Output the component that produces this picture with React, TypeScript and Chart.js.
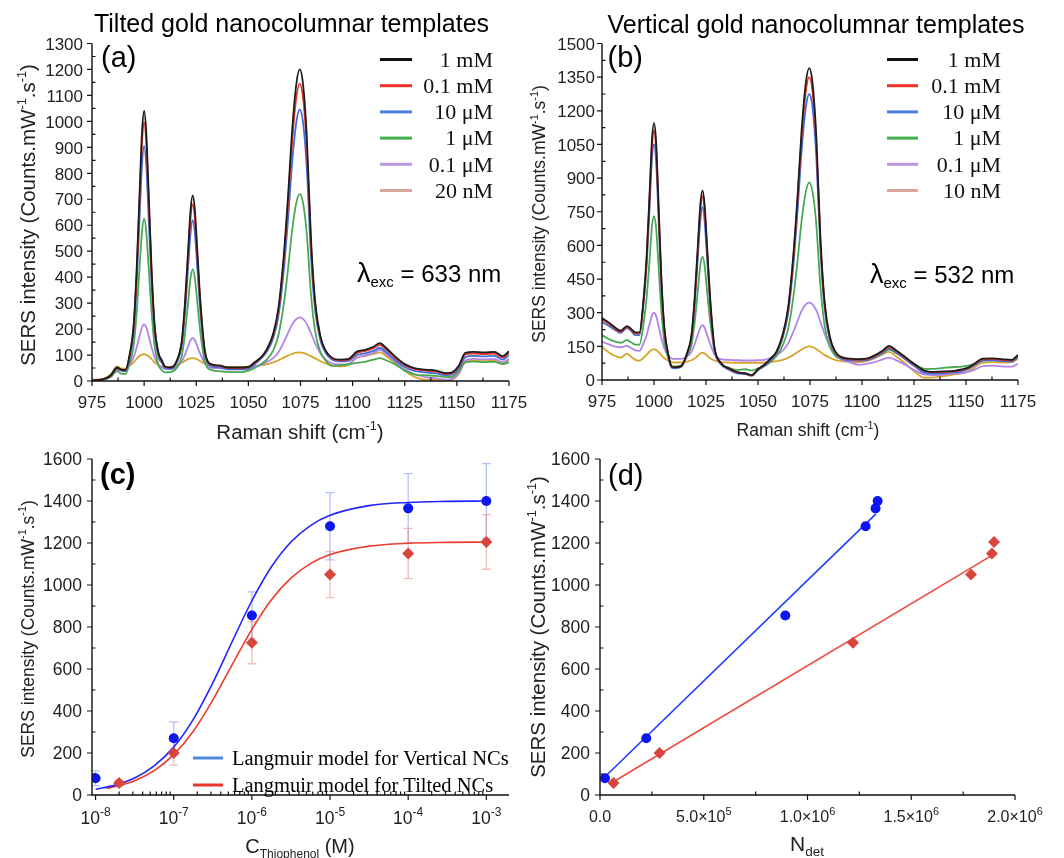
import React, { useEffect, useRef } from "react";
import { Chart, registerables } from "chart.js";

Chart.register(...registerables);

// ---------------- data ----------------
const ramanShift = [975, 978, 981, 984, 987, 989, 991, 993, 995, 996.5, 998, 999, 1000, 1001, 1002, 1003.5, 1005, 1007, 1008.5, 1010, 1013, 1016, 1018, 1019.5, 1021, 1022.3, 1023.3, 1024.3, 1025.6, 1027, 1029, 1032, 1036, 1040, 1044, 1047, 1050, 1053, 1056, 1059, 1062, 1064.5, 1067, 1069, 1071, 1073, 1074.6, 1076.2, 1078, 1080, 1082, 1084.5, 1087, 1090, 1094, 1098, 1102, 1106, 1110, 1113, 1116, 1120, 1125, 1130, 1135, 1140, 1145, 1148, 1151, 1154, 1158, 1163, 1168, 1172, 1175];

// (a) tilted gold nanocolumnar templates, 633 nm
const tilted_1mM = [2, 4, 8, 22, 52, 44, 42, 100, 218, 446, 763, 961, 1040, 961, 763, 446, 218, 105, 80, 56, 52, 85, 151, 291, 490, 662, 715, 662, 490, 304, 125, 65, 60, 52, 52, 52, 54, 72, 91, 125, 185, 286, 486, 709, 966, 1144, 1200, 1144, 944, 553, 308, 174, 118, 90, 82, 85, 113, 120, 132, 146, 128, 97, 65, 49, 44, 40, 30, 35, 60, 108, 112, 110, 112, 96, 115];
const tilted_01mM = [2, 4, 8, 21, 50, 43, 41, 97, 211, 428, 730, 919, 995, 919, 730, 428, 211, 100, 76, 55, 51, 83, 146, 278, 467, 631, 680, 631, 467, 290, 120, 64, 58, 51, 50, 50, 52, 70, 89, 121, 179, 275, 466, 678, 922, 1092, 1145, 1092, 901, 530, 296, 169, 116, 88, 80, 82, 108, 115, 126, 139, 122, 92, 61, 45, 40, 36, 27, 31, 56, 102, 106, 104, 106, 90, 110];
const tilted_10uM = [2, 3, 7, 19, 46, 40, 38, 88, 191, 389, 664, 836, 905, 836, 664, 389, 191, 90, 70, 50, 47, 76, 133, 253, 425, 573, 620, 573, 425, 264, 110, 58, 53, 47, 46, 46, 48, 64, 86, 114, 167, 254, 427, 620, 842, 997, 1045, 997, 823, 485, 273, 157, 109, 83, 76, 78, 100, 106, 116, 128, 112, 84, 54, 38, 33, 29, 22, 26, 48, 92, 97, 95, 97, 82, 100];
const tilted_1uM = [1, 3, 6, 15, 38, 28, 27, 67, 138, 273, 461, 578, 625, 578, 461, 273, 138, 59, 42, 33, 35, 55, 94, 177, 296, 398, 430, 398, 296, 185, 78, 43, 38, 35, 34, 34, 40, 50, 65, 84, 119, 179, 298, 430, 581, 687, 720, 687, 568, 337, 192, 113, 80, 58, 60, 64, 70, 74, 82, 88, 80, 66, 40, 25, 22, 20, 15, 18, 40, 72, 75, 73, 74, 65, 72];
const tilted_01uM = [2, 3, 7, 19, 46, 42, 42, 62, 92, 132, 180, 208, 218, 208, 180, 132, 92, 62, 52, 47, 47, 56, 75, 100, 131, 158, 165, 158, 131, 103, 71, 51, 50, 45, 44, 44, 46, 56, 62, 74, 89, 112, 150, 184, 218, 239, 245, 239, 220, 184, 146, 108, 83, 68, 64, 66, 90, 98, 108, 120, 104, 78, 45, 25, 15, 10, 5, 10, 32, 78, 85, 83, 85, 72, 85];
const tilted_20nM = [5, 6, 10, 25, 56, 48, 48, 60, 72, 86, 98, 102, 103, 101, 96, 85, 72, 60, 55, 53, 55, 62, 70, 77, 84, 87, 88, 87, 83, 76, 67, 58, 55, 54, 54, 54, 55, 57, 60, 65, 72, 80, 90, 98, 104, 109, 110, 108, 103, 96, 87, 77, 68, 60, 56, 62, 90, 96, 104, 110, 96, 72, 40, 15, 5, 4, 2, 6, 28, 72, 78, 76, 78, 66, 80];

// (b) vertical gold nanocolumnar templates, 532 nm
const vertical_1mM = [276, 258, 236, 220, 240, 228, 212, 212, 365, 559, 859, 1068, 1145, 1064, 832, 463, 231, 108, 60, 57, 62, 123, 199, 359, 587, 784, 845, 784, 583, 365, 151, 78, 52, 35, 30, 22, 48, 68, 95, 129, 207, 324, 558, 818, 1117, 1325, 1390, 1325, 1091, 636, 350, 194, 129, 103, 95, 93, 95, 110, 132, 152, 135, 108, 72, 42, 36, 38, 42, 47, 55, 72, 95, 96, 92, 90, 112];
const vertical_01mM = [270, 252, 231, 215, 236, 223, 207, 207, 355, 543, 833, 1035, 1110, 1032, 807, 451, 226, 107, 59, 56, 61, 121, 194, 349, 570, 761, 820, 760, 566, 355, 147, 77, 50, 34, 29, 21, 47, 66, 93, 126, 202, 315, 542, 795, 1085, 1287, 1350, 1287, 1060, 618, 340, 189, 126, 100, 92, 90, 92, 106, 128, 147, 131, 104, 69, 40, 34, 36, 40, 45, 53, 70, 92, 93, 89, 87, 108];
const vertical_10uM = [258, 243, 224, 210, 232, 218, 200, 200, 341, 519, 793, 984, 1050, 976, 765, 429, 217, 104, 55, 52, 58, 116, 185, 330, 536, 715, 770, 713, 530, 335, 140, 72, 46, 30, 26, 18, 44, 62, 88, 121, 192, 299, 513, 751, 1025, 1216, 1275, 1216, 1001, 585, 323, 180, 120, 96, 88, 86, 88, 101, 122, 140, 125, 98, 63, 33, 28, 31, 35, 40, 48, 65, 87, 88, 84, 82, 102];
const vertical_1uM = [200, 184, 172, 166, 178, 168, 158, 158, 253, 370, 553, 682, 730, 680, 540, 314, 169, 92, 62, 60, 64, 108, 155, 252, 392, 513, 550, 512, 388, 262, 136, 72, 55, 45, 48, 42, 52, 62, 80, 109, 157, 228, 371, 530, 713, 840, 880, 840, 697, 419, 244, 149, 110, 95, 90, 88, 90, 102, 118, 135, 122, 100, 72, 50, 50, 55, 58, 60, 64, 72, 88, 90, 86, 86, 100];
const vertical_01uM = [170, 160, 150, 146, 152, 143, 132, 130, 165, 201, 254, 287, 300, 286, 250, 188, 140, 108, 96, 94, 94, 106, 125, 158, 200, 235, 245, 234, 199, 161, 116, 93, 90, 88, 87, 87, 88, 90, 98, 111, 132, 163, 215, 262, 309, 337, 345, 337, 311, 260, 206, 151, 115, 91, 80, 68, 72, 80, 92, 100, 90, 72, 45, 25, 22, 25, 30, 32, 36, 45, 62, 64, 60, 60, 72];
const vertical_10nM = [148, 125, 108, 100, 118, 103, 90, 86, 99, 113, 128, 135, 138, 134, 126, 111, 97, 85, 80, 78, 78, 82, 88, 96, 107, 118, 122, 118, 108, 97, 87, 80, 78, 77, 77, 77, 77, 78, 80, 84, 90, 99, 112, 124, 136, 146, 150, 147, 138, 125, 112, 99, 90, 84, 81, 80, 84, 96, 115, 125, 108, 80, 40, 10, 12, 18, 26, 30, 38, 55, 78, 80, 78, 80, 95];

const tiltedLegend = ["1 mM", "0.1 mM", "10 \u03bcM", "1 \u03bcM", "0.1 \u03bcM", "20 nM"];
const verticalLegend = ["1 mM", "0.1 mM", "10 \u03bcM", "1 \u03bcM", "0.1 \u03bcM", "10 nM"];

// (c) intensity vs concentration
const concVertical = [1e-8, 1e-7, 1e-6, 1e-5, 1e-4, 1e-3];
const intensityVertical = [80, 270, 855, 1280, 1365, 1400];
const errVertical = [35, 78, 112, 160, 165, 178];
const concTilted = [2e-8, 1e-7, 1e-6, 1e-5, 1e-4, 1e-3];
const intensityTilted = [57, 200, 725, 1050, 1150, 1205];
const errTilted = [14, 58, 100, 110, 120, 130];
const langmuirConcVertical = [1e-8, 1.78e-8, 3.16e-8, 5.62e-8, 1e-7, 1.78e-7, 3.16e-7, 5.62e-7, 1e-6, 1.78e-6, 3.16e-6, 5.62e-6, 1e-5, 3.16e-5, 1e-4, 3.16e-4, 1e-3];
const langmuirVertical = [27, 47, 81, 139, 228, 360, 534, 732, 925, 1087, 1205, 1283, 1332, 1378, 1393, 1398, 1400];
const langmuirConcTilted = [1.4e-8, 1.78e-8, 3.16e-8, 5.62e-8, 1e-7, 1.78e-7, 3.16e-7, 5.62e-7, 1e-6, 1.78e-6, 3.16e-6, 5.62e-6, 1e-5, 3.16e-5, 1e-4, 3.16e-4, 1e-3];
const langmuirTilted = [31, 40, 68, 116, 192, 304, 452, 622, 789, 930, 1033, 1102, 1145, 1185, 1199, 1203, 1205];
const langmuirLegend = ["Langmuir model for Vertical NCs", "Langmuir model for Tilted NCs"];

// (d) intensity vs number of detected molecules
const nDetVertical = [2.4e4, 2.23e5, 8.93e5, 1.28e6, 1.328e6, 1.338e6];
const nDetTilted = [6.5e4, 2.87e5, 1.219e6, 1.788e6, 1.889e6, 1.899e6];
const fitVerticalN = [2.4e4, 1.33e6];
const fitVerticalI = [87, 1339];
const fitTiltedN = [6.5e4, 1.889e6];
const fitTiltedI = [63, 1141];

// ticks
const aXTicks = [975, 1000, 1025, 1050, 1075, 1100, 1125, 1150, 1175];
const aYTicks = [0, 100, 200, 300, 400, 500, 600, 700, 800, 900, 1000, 1100, 1200, 1300];
const bYTicks = [0, 150, 300, 450, 600, 750, 900, 1050, 1200, 1350, 1500];
const cXTicks = [1e-8, 1e-7, 1e-6, 1e-5, 1e-4, 1e-3];
const cXTickExp = ["-8", "-7", "-6", "-5", "-4", "-3"];
const cdYTicks = [0, 200, 400, 600, 800, 1000, 1200, 1400, 1600];
const dXTicks = [0, 5e5, 1e6, 1.5e6, 2e6];
const dXTickMantissa = ["0.0", "5.0", "1.0", "1.5", "2.0"];
const dXTickExp = ["", "5", "6", "6", "6"];

// ---------------- styling ----------------
const SANS = '"Liberation Sans", Arial, sans-serif';
const SERIF = '"Liberation Serif", "Times New Roman", serif';
const spectraColors = ["#1c1c1c", "#e23b2e", "#3c6fda", "#47aa52", "#b283e8", "#d9a42c"];
const legendColors = ["#111111", "#ee3124", "#4a80e0", "#3fae4c", "#b898e2", "#d8a49c"];
const legendRows = [59.5, 85.7, 111.9, 138.1, 164.3, 190.5];

type Seg = { t: string; s: number; dy?: number; bold?: boolean; serif?: boolean };

function fontOf(sg: Seg) {
  return `${sg.bold ? "bold " : ""}${sg.s}px ${sg.serif ? SERIF : SANS}`;
}

function drawRich(ctx: CanvasRenderingContext2D, segs: Seg[], x: number, y: number, align: string) {
  let total = 0;
  const ws = segs.map((sg) => {
    ctx.font = fontOf(sg);
    const w = ctx.measureText(sg.t).width;
    total += w;
    return w;
  });
  let cx = align === "left" ? x : align === "center" ? x - total / 2 : x - total;
  ctx.textAlign = "left";
  ctx.textBaseline = "alphabetic";
  segs.forEach((sg, i) => {
    ctx.font = fontOf(sg);
    ctx.fillText(sg.t, cx, y + (sg.dy || 0));
    cx += ws[i];
  });
}

function sersTitle(s: number): Seg[] {
  return [
    { t: "SERS intensity (Counts.mW", s },
    { t: "-1", s: s * 0.62, dy: -s * 0.42 },
    { t: ".s", s },
    { t: "-1", s: s * 0.62, dy: -s * 0.42 },
    { t: ")", s },
  ];
}

function ramanTitle(s: number): Seg[] {
  return [
    { t: "Raman shift (cm", s },
    { t: "-1", s: s * 0.62, dy: -s * 0.42 },
    { t: ")", s },
  ];
}

type TextItem = { segs: Seg[]; x: number; y: number; align?: string; rot?: boolean; color?: string };
type Deco = {
  xMajors: number[];
  xMinors: number[];
  xLabel: (v: number, i: number) => Seg[];
  xLabelDy: number;
  yMajors: number[];
  yMinors: number[];
  yLabel: (v: number) => Seg[];
  yLabelGap: number;
  texts: TextItem[];
  lines: { x1: number; x2: number; y: number; color: string; w: number }[];
  errors?: { xs: number[]; ys: number[]; es: number[]; color: string }[];
};

function decoPlugin(d: Deco) {
  return {
    id: "deco",
    beforeDatasetsDraw(chart: any) {
      if (!d.errors) return;
      const ctx = chart.ctx as CanvasRenderingContext2D;
      const sx = chart.scales.x;
      const sy = chart.scales.y;
      ctx.save();
      d.errors.forEach((e) => {
        ctx.strokeStyle = e.color;
        ctx.lineWidth = 1.3;
        e.xs.forEach((xv, i) => {
          const px = sx.getPixelForValue(xv);
          const pt = sy.getPixelForValue(e.ys[i] + e.es[i]);
          const pb = sy.getPixelForValue(e.ys[i] - e.es[i]);
          ctx.beginPath();
          ctx.moveTo(px, pt);
          ctx.lineTo(px, pb);
          ctx.moveTo(px - 4.5, pt);
          ctx.lineTo(px + 4.5, pt);
          ctx.moveTo(px - 4.5, pb);
          ctx.lineTo(px + 4.5, pb);
          ctx.stroke();
        });
      });
      ctx.restore();
    },
    afterDraw(chart: any) {
      const ctx = chart.ctx as CanvasRenderingContext2D;
      const { left, right, top, bottom } = chart.chartArea;
      const sx = chart.scales.x;
      const sy = chart.scales.y;
      ctx.save();
      ctx.strokeStyle = "#111";
      ctx.lineWidth = 1.4;
      ctx.beginPath();
      ctx.moveTo(left, top);
      ctx.lineTo(left, bottom);
      ctx.lineTo(right, bottom);
      ctx.stroke();
      ctx.lineWidth = 1.2;
      ctx.beginPath();
      d.xMajors.forEach((v) => {
        const p = sx.getPixelForValue(v);
        ctx.moveTo(p, bottom);
        ctx.lineTo(p, bottom + 5);
      });
      d.xMinors.forEach((v) => {
        const p = sx.getPixelForValue(v);
        ctx.moveTo(p, bottom);
        ctx.lineTo(p, bottom - 3.5);
      });
      d.yMajors.forEach((v) => {
        const p = sy.getPixelForValue(v);
        ctx.moveTo(left, p);
        ctx.lineTo(left - 5, p);
      });
      d.yMinors.forEach((v) => {
        const p = sy.getPixelForValue(v);
        ctx.moveTo(left, p);
        ctx.lineTo(left + 3.5, p);
      });
      ctx.stroke();

      ctx.fillStyle = "#222";
      d.xMajors.forEach((v, i) => drawRich(ctx, d.xLabel(v, i), sx.getPixelForValue(v), bottom + d.xLabelDy, "center"));
      d.yMajors.forEach((v) => drawRich(ctx, d.yLabel(v), left - d.yLabelGap, sy.getPixelForValue(v) + 6.2, "right"));

      d.lines.forEach((l) => {
        ctx.strokeStyle = l.color;
        ctx.lineWidth = l.w;
        ctx.beginPath();
        ctx.moveTo(l.x1, l.y);
        ctx.lineTo(l.x2, l.y);
        ctx.stroke();
      });

      d.texts.forEach((t) => {
        ctx.fillStyle = t.color || "#111";
        if (t.rot) {
          ctx.save();
          ctx.translate(t.x, t.y);
          ctx.rotate(-Math.PI / 2);
          drawRich(ctx, t.segs, 0, 0, "center");
          ctx.restore();
        } else {
          drawRich(ctx, t.segs, t.x, t.y, t.align || "left");
        }
      });
      ctx.restore();
    },
  };
}

const W = 1064;
const H = 858;

function baseOptions(pad: any, xScale: any, yMax: number) {
  return {
    responsive: false,
    animation: false,
    events: [],
    layout: { padding: pad },
    plugins: { legend: { display: false }, tooltip: { enabled: false } },
    scales: {
      x: { ...xScale, display: false },
      y: { type: "linear", min: 0, max: yMax, display: false },
    },
  };
}

function makeSpectrum(canvas: HTMLCanvasElement, series: number[][], yMax: number, pad: any, deco: Deco) {
  return new Chart(canvas, {
    type: "line",
    data: {
      datasets: series.map((ys, i) => ({
        data: ramanShift.map((x, j) => ({ x, y: ys[j] })),
        borderColor: spectraColors[i],
        borderWidth: 1.8,
        pointRadius: 0,
        cubicInterpolationMode: "monotone",
        fill: false,
      })),
    },
    options: baseOptions(pad, { type: "linear", min: 975, max: 1175 }, yMax) as any,
    plugins: [decoPlugin(deco) as any],
  });
}

function range(a: number, b: number, step: number) {
  const out: number[] = [];
  for (let v = a; v <= b + 1e-9; v += step) out.push(v);
  return out;
}

function legendTexts(labels: string[], xRight: number): TextItem[] {
  return labels.map((l, i) => ({ segs: [{ t: l, s: 22, serif: true }], x: xRight, y: legendRows[i] + 7.3, align: "right" }));
}
function legendLines(x1: number, x2: number) {
  return legendColors.map((c, i) => ({ x1, x2, y: legendRows[i], color: c, w: 3 }));
}

const plainLabel = (s: number) => (v: number): Seg[] => [{ t: String(v), s }];

function buildA(canvas: HTMLCanvasElement) {
  const deco: Deco = {
    xMajors: aXTicks,
    xMinors: range(987.5, 1162.5, 25),
    xLabel: plainLabel(17),
    xLabelDy: 27,
    yMajors: aYTicks,
    yMinors: range(50, 1250, 100),
    yLabel: plainLabel(17),
    yLabelGap: 9,
    texts: [
      { segs: [{ t: "Tilted gold nanocolumnar templates", s: 25 }], x: 291.5, y: 32, align: "center", color: "#000" },
      { segs: [{ t: "(a)", s: 29 }], x: 101, y: 67, color: "#000" },
      { segs: [{ t: "\u03bb", s: 27 }, { t: "exc", s: 15, dy: 5 }, { t: " = 633 nm", s: 24 }], x: 357, y: 282, color: "#000" },
      ...legendTexts(tiltedLegend, 493),
      { segs: sersTitle(20.5), x: 34.5, y: 215, rot: true, color: "#222" },
      { segs: ramanTitle(20.5), x: 300, y: 439, align: "center", color: "#222" },
    ],
    lines: legendLines(380, 412),
  };
  return makeSpectrum(
    canvas,
    [tilted_1mM, tilted_01mM, tilted_10uM, tilted_1uM, tilted_01uM, tilted_20nM],
    1300,
    { left: 92, top: 43.5, right: W - 509, bottom: H - 381 },
    deco
  );
}

function buildB(canvas: HTMLCanvasElement) {
  const deco: Deco = {
    xMajors: aXTicks,
    xMinors: range(987.5, 1162.5, 25),
    xLabel: plainLabel(17),
    xLabelDy: 27,
    yMajors: bYTicks,
    yMinors: range(75, 1425, 150),
    yLabel: plainLabel(17),
    yLabelGap: 7,
    texts: [
      { segs: [{ t: "Vertical gold nanocolumnar templates", s: 25 }], x: 816, y: 32.5, align: "center", color: "#000" },
      { segs: [{ t: "(b)", s: 29 }], x: 607.5, y: 67, color: "#000" },
      { segs: [{ t: "\u03bb", s: 27 }, { t: "exc", s: 15, dy: 5 }, { t: " = 532 nm", s: 24 }], x: 870, y: 283, color: "#000" },
      ...legendTexts(verticalLegend, 1001),
      { segs: sersTitle(17.5), x: 545, y: 214, rot: true, color: "#222" },
      { segs: ramanTitle(17.5), x: 808, y: 436, align: "center", color: "#222" },
    ],
    lines: legendLines(887, 918),
  };
  return makeSpectrum(
    canvas,
    [vertical_1mM, vertical_01mM, vertical_10uM, vertical_1uM, vertical_01uM, vertical_10nM],
    1500,
    { left: 602, top: 43.5, right: W - 1018, bottom: H - 380 },
    deco
  );
}

function buildC(canvas: HTMLCanvasElement) {
  const minors: number[] = [];
  for (let e = -8; e <= -4; e++) for (let k = 2; k <= 9; k++) minors.push(k * Math.pow(10, e));
  const deco: Deco = {
    xMajors: cXTicks,
    xMinors: minors,
    xLabel: (_v, i) => [
      { t: "10", s: 17.5 },
      { t: cXTickExp[i], s: 12, dy: -8 },
    ],
    xLabelDy: 29,
    yMajors: cdYTicks,
    yMinors: range(100, 1500, 200),
    yLabel: plainLabel(17.5),
    yLabelGap: 10,
    texts: [
      { segs: [{ t: "(c)", s: 29, bold: true }], x: 100, y: 484, color: "#000" },
      { segs: [{ t: langmuirLegend[0], s: 20.5, serif: true }], x: 232, y: 765, color: "#000" },
      { segs: [{ t: langmuirLegend[1], s: 20.5, serif: true }], x: 232, y: 792, color: "#000" },
      { segs: sersTitle(17.5), x: 33.5, y: 629, rot: true, color: "#222" },
      {
        segs: [
          { t: "C", s: 20 },
          { t: "Thiophenol", s: 12, dy: 5 },
          { t: " (M)", s: 20 },
        ],
        x: 300,
        y: 853,
        align: "center",
        color: "#222",
      },
    ],
    lines: [
      { x1: 193, x2: 223, y: 758, color: "#4f86e0", w: 3 },
      { x1: 193, x2: 223, y: 785, color: "#e8352e", w: 3 },
    ],
    errors: [
      { xs: concVertical, ys: intensityVertical, es: errVertical, color: "rgba(120,140,255,0.55)" },
      { xs: concTilted, ys: intensityTilted, es: errTilted, color: "rgba(236,120,115,0.5)" },
    ],
  };
  return new Chart(canvas, {
    type: "line",
    data: {
      datasets: [
        {
          data: concVertical.map((x, i) => ({ x, y: intensityVertical[i] })),
          showLine: false,
          pointStyle: "circle",
          pointRadius: 5,
          pointBackgroundColor: "#0b16f0",
          pointBorderWidth: 0,
          borderColor: "#0b16f0",
        },
        {
          data: concTilted.map((x, i) => ({ x, y: intensityTilted[i] })),
          showLine: false,
          pointStyle: "rectRot",
          pointRadius: 6,
          pointBackgroundColor: "#d8453c",
          pointBorderWidth: 0,
          borderColor: "#d8453c",
        },
        {
          data: langmuirConcVertical.map((x, i) => ({ x, y: langmuirVertical[i] })),
          borderColor: "#2323ff",
          borderWidth: 1.6,
          pointRadius: 0,
          cubicInterpolationMode: "monotone",
          fill: false,
        },
        {
          data: langmuirConcTilted.map((x, i) => ({ x, y: langmuirTilted[i] })),
          borderColor: "#ec3b30",
          borderWidth: 1.6,
          pointRadius: 0,
          cubicInterpolationMode: "monotone",
          fill: false,
        },
      ],
    },
    options: baseOptions(
      { left: 92, top: 459, right: W - 509, bottom: H - 795 },
      { type: "logarithmic", min: 9.16e-9, max: 1.95e-3 },
      1600
    ) as any,
    plugins: [decoPlugin(deco) as any],
  });
}

function buildD(canvas: HTMLCanvasElement) {
  const deco: Deco = {
    xMajors: dXTicks,
    xMinors: range(2.5e5, 1.75e6, 5e5),
    xLabel: (_v, i) =>
      dXTickExp[i]
        ? [
            { t: dXTickMantissa[i] + "\u00d710", s: 16 },
            { t: dXTickExp[i], s: 11, dy: -7.5 },
          ]
        : [{ t: dXTickMantissa[i], s: 16 }],
    xLabelDy: 27,
    yMajors: cdYTicks,
    yMinors: range(100, 1500, 200),
    yLabel: plainLabel(17.5),
    yLabelGap: 10,
    texts: [
      { segs: [{ t: "(d)", s: 29 }], x: 608, y: 484.5, color: "#000" },
      { segs: sersTitle(20.5), x: 545, y: 627, rot: true, color: "#222" },
      {
        segs: [
          { t: "N", s: 21 },
          { t: "det", s: 13.5, dy: 5 },
        ],
        x: 807,
        y: 851,
        align: "center",
        color: "#222",
      },
    ],
    lines: [],
  };
  return new Chart(canvas, {
    type: "line",
    data: {
      datasets: [
        {
          data: nDetVertical.map((x, i) => ({ x, y: intensityVertical[i] })),
          showLine: false,
          pointStyle: "circle",
          pointRadius: 5,
          pointBackgroundColor: "#0b16f0",
          pointBorderWidth: 0,
          borderColor: "#0b16f0",
        },
        {
          data: nDetTilted.map((x, i) => ({ x, y: intensityTilted[i] })),
          showLine: false,
          pointStyle: "rectRot",
          pointRadius: 6,
          pointBackgroundColor: "#d8453c",
          pointBorderWidth: 0,
          borderColor: "#d8453c",
        },
        {
          data: fitVerticalN.map((x, i) => ({ x, y: fitVerticalI[i] })),
          borderColor: "#1f3cff",
          borderWidth: 1.6,
          pointRadius: 0,
          fill: false,
        },
        {
          data: fitTiltedN.map((x, i) => ({ x, y: fitTiltedI[i] })),
          borderColor: "#ec4a3f",
          borderWidth: 1.6,
          pointRadius: 0,
          fill: false,
        },
      ],
    },
    options: baseOptions(
      { left: 600, top: 459, right: W - 1015, bottom: H - 795 },
      { type: "linear", min: 0, max: 2e6 },
      1600
    ) as any,
    plugins: [decoPlugin(deco) as any],
  });
}

export default function App() {
  const refA = useRef<HTMLCanvasElement>(null);
  const refB = useRef<HTMLCanvasElement>(null);
  const refC = useRef<HTMLCanvasElement>(null);
  const refD = useRef<HTMLCanvasElement>(null);

  useEffect(() => {
    const charts = [buildA(refA.current!), buildB(refB.current!), buildC(refC.current!), buildD(refD.current!)];
    return () => charts.forEach((c) => c.destroy());
  }, []);

  const cs: React.CSSProperties = { position: "absolute", left: 0, top: 0, width: W, height: H };
  return (
    <div style={{ position: "absolute", left: 0, top: 0, width: W, height: H, background: "#fff", overflow: "hidden" }}>
      <canvas ref={refA} width={W} height={H} style={cs} />
      <canvas ref={refB} width={W} height={H} style={cs} />
      <canvas ref={refC} width={W} height={H} style={cs} />
      <canvas ref={refD} width={W} height={H} style={cs} />
    </div>
  );
}
